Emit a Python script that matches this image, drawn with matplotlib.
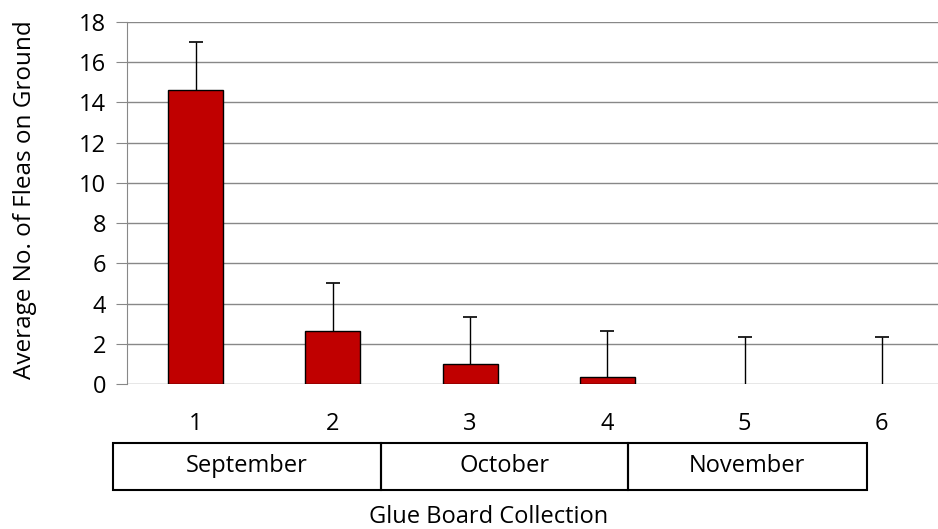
import matplotlib.pyplot as plt
import matplotlib.transforms as mtransforms
from matplotlib.patches import Rectangle

plt.rcParams['font.family'] = ['Open Sans', 'DejaVu Sans']

collections = [1, 2, 3, 4, 5, 6]
avg_fleas = [14.63, 2.65, 1.0, 0.33, 0.0, 0.0]
err_upper = [2.37, 2.37, 2.33, 2.32, 2.32, 2.32]
months = ['September', 'October', 'November']
month_edges = [0.40, 2.35, 4.15, 5.89]

fig = plt.figure(figsize=(9.38, 5.29), dpi=100)
ax = fig.add_axes([0.1354, 0.2741, 0.8646, 0.6843])

# skip zero bars so no outline shows on the baseline
nz = [(c, v) for c, v in zip(collections, avg_fleas) if v > 0]
ax.bar([c for c, _ in nz], [v for _, v in nz], width=0.4, color='#C00000',
       edgecolor='black', linewidth=1, zorder=3)
_, caps, _ = ax.errorbar(collections, avg_fleas, yerr=[[0] * len(err_upper), err_upper],
                         fmt='none', ecolor='black', elinewidth=1, capsize=5,
                         capthick=1.2, zorder=4)
caps[0].set_visible(False)

ax.set_ylim(0, 18)
ax.set_xlim(0.5, 6.41)
ax.set_yticks(range(0, 19, 2))
ax.set_xticks(collections)
ax.tick_params(axis='y', labelsize=17, length=8, color='#888888', pad=7)
ax.tick_params(axis='x', labelsize=17, length=0, pad=20)
ax.yaxis.grid(True, color='#888888', linewidth=1)
ax.set_axisbelow(True)
for side in ['top', 'right', 'bottom']:
    ax.spines[side].set_visible(False)
ax.spines['left'].set_color('#888888')

ax.set_ylabel('Average No. of Fleas on Ground', fontsize=17.5)
ax.yaxis.set_label_coords(-0.111, 0.508)

trans = mtransforms.blended_transform_factory(ax.transData, ax.transAxes)
box_top = -0.162
box_bot = -0.293
for i, month in enumerate(months):
    x0, x1 = month_edges[i], month_edges[i + 1]
    ax.add_patch(Rectangle((x0, box_bot), x1 - x0, box_top - box_bot, transform=trans,
                           fill=False, edgecolor='black', linewidth=1.5, clip_on=False))
    ax.text((x0 + x1) / 2, (box_top + box_bot) / 2, month, transform=trans,
            ha='center', va='center', fontsize=17)

fig.text(0.521, 0.022, 'Glue Board Collection', ha='center', va='center', fontsize=17)

fig.savefig('out.png', dpi=100)
